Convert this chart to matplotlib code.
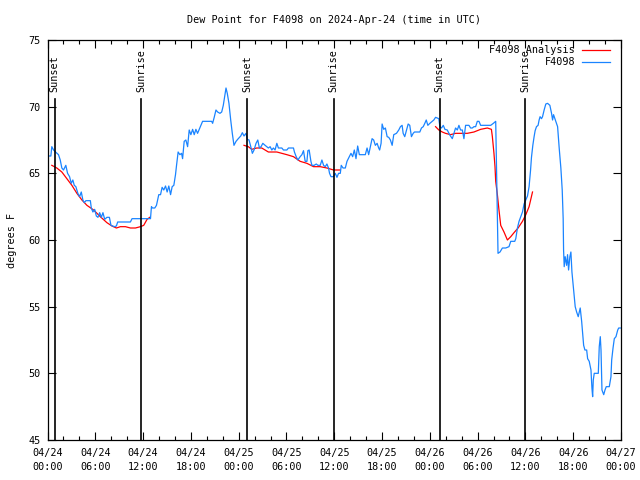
import numpy as np
import matplotlib
matplotlib.use("Agg")
import matplotlib.pyplot as plt
from matplotlib.lines import Line2D

nan = float("nan")

# hours since 2024-04-24 00:00 UTC
obs_hours = [
    0.0, 0.42, 0.54, 0.76, 1.10, 1.38, 1.60, 1.80, 2.01, 2.30, 2.52, 2.77, 2.98, 3.18, 3.36,
    3.56, 3.81, 4.03, 4.24, 4.44, 4.62, 4.82, 5.38, 5.50, 5.70, 5.92, 6.13, 6.33, 6.55, 6.76,
    6.96, 7.18, 7.46, 7.77, 7.97, 8.40, 8.65, 8.81, 10.41, 10.61, 12.93, 13.05, 13.18, 13.47,
    13.68, 13.97, 14.19, 14.39, 14.60, 14.82, 15.02, 15.23, 15.45, 15.65, 15.86, 16.07, 16.20,
    16.40, 16.62, 16.83, 16.96, 17.16, 17.37, 17.59, 17.79, 18.00, 18.22, 18.42, 18.63, 18.84,
    19.05, 19.26, 19.47, 20.61, 20.73, 20.93, 21.15, 21.36, 21.65, 21.87, 22.07, 22.28, 22.41,
    22.57, 22.78, 23.00, 23.20, 23.41, 23.67, 23.95, 24.26, 24.46, 24.67, 24.92, 25.09, 25.30,
    25.52, 25.72, 25.93, 26.18, 26.40, 26.60, 26.81, 27.03, 27.32, 27.73, 27.95, 28.16, 28.36,
    28.57, 28.79, 28.99, 29.42, 29.62, 30.05, 30.25, 30.88, 31.00, 31.22, 31.43, 31.72, 31.94,
    32.14, 32.35, 32.57, 32.69, 32.85, 33.07, 33.20, 33.48, 33.74, 33.95, 34.24, 34.45, 34.66,
    34.87, 35.08, 35.28, 35.41, 35.59, 35.91, 36.13, 36.34, 36.54, 36.76, 36.88, 37.10, 37.39,
    37.60, 37.89, 38.10, 38.31, 38.52, 38.73, 38.94, 39.15, 39.90, 40.12, 40.32, 40.53, 40.75,
    40.95, 41.16, 41.38, 41.58, 41.70, 41.88, 42.01, 42.21, 42.42, 42.64, 42.84, 43.05, 43.27,
    43.47, 43.81, 44.10, 44.31, 44.52, 44.65, 44.85, 45.07, 45.28, 45.48, 45.69, 45.91, 46.07,
    46.74, 46.95, 47.17, 47.37, 47.55, 47.75, 48.00, 48.30, 48.50, 48.72, 49.13, 49.26, 49.47,
    49.69, 49.89, 50.19, 50.48, 50.82, 51.02, 51.23, 51.45, 51.65, 51.86, 52.08, 52.28, 52.49,
    52.91, 53.12, 53.33, 53.54, 53.75, 53.96, 54.17, 54.38, 55.64, 55.98, 56.27, 56.39, 56.48,
    56.56, 56.81, 57.11, 57.53, 57.74, 57.94, 58.16, 58.66, 58.79, 59.00, 59.20, 59.42, 59.63,
    59.83, 60.05, 60.26, 60.46, 60.64, 60.76, 60.93, 61.09, 61.22, 61.39, 61.59, 61.72, 61.84,
    62.02, 62.15, 62.35, 62.56, 62.78, 63.07, 63.28, 63.41, 63.53, 63.70, 63.82, 64.04, 64.24,
    64.45, 64.62, 64.74, 64.79, 64.87, 64.99, 65.17, 65.29, 65.42, 65.58, 65.71, 65.84, 66.00,
    66.13, 66.25, 66.43, 66.63, 66.76, 66.88, 67.06, 67.18, 67.31, 67.47, 67.69, 67.81, 68.01,
    68.23, 68.35, 68.44, 68.52, 68.64, 69.15, 69.27, 69.40, 69.49, 69.61, 69.83, 69.99, 70.15,
    70.53, 70.74, 70.83, 71.00, 71.16, 71.37, 71.59, 71.71, 71.91,
]
obs_dewpt = [
    66.3, 66.3, 67.0, 66.75, 66.55, 66.4, 66.0, 65.4, 65.25, 65.6, 65.0, 64.75, 64.25, 64.5, 64.1,
    64.0, 63.5, 63.25, 63.6, 63.0, 62.8, 62.95, 62.95, 62.4, 62.1, 62.3, 61.8, 61.7, 62.05, 61.7,
    62.05, 61.55, 61.7, 61.7, 61.1, 61.0, 61.05, 61.35, 61.35, 61.6, 61.6, 62.5, 62.4, 62.4,
    62.6, 63.4, 63.4, 63.95, 63.75, 64.05, 63.6, 64.05, 63.4, 64.0, 64.1, 64.9, 65.6,
    66.6, 66.4, 66.5, 66.1, 67.4, 67.5, 67.0, 68.25, 67.9, 68.3, 67.9, 68.3, 68.0,
    68.3, 68.6, 68.9, 68.9, 68.75, 69.2, 69.75, 69.6, 69.5, 69.6, 70.1, 70.9, 71.4,
    71.0, 70.25, 69.0, 68.0, 67.1, 67.4, 67.6, 67.8, 68.05, 67.8, 68.0, 67.55, 67.5,
    67.0, 66.5, 66.75, 67.25, 67.5, 66.9, 67.0, 67.25, 67.1, 66.9, 67.0, 66.75, 66.9,
    66.75, 67.25, 66.9, 66.9, 66.75, 66.75, 66.9, 66.9, 66.6, 66.25, 66.0, 66.25, 66.4,
    66.7, 65.9, 65.9, 66.7, 66.75, 65.9, 65.6, 65.6, 65.7, 65.6, 65.6, 66.0, 65.6,
    65.5, 65.7, 65.4, 65.0, 64.75, 64.75, 65.0, 64.7, 65.0, 65.0, 65.6, 65.4, 65.4,
    65.9, 66.25, 66.5, 66.25, 66.75, 66.1, 67.05, 66.4, 66.4, 66.9, 66.4, 67.0, 67.6,
    67.5, 67.1, 67.25, 66.9, 66.75, 67.25, 68.7, 68.3, 68.4, 67.75, 67.7, 67.5, 67.1,
    67.9, 68.0, 68.25, 68.5, 68.6, 68.0, 67.75, 68.25, 68.7, 68.6, 67.75, 68.0, 68.1,
    68.1, 68.4, 68.5, 68.75, 69.0, 68.6, 68.75, 68.9, 69.0, 69.2, 69.1, 68.5, 68.4,
    68.6, 68.3, 68.25, 67.9, 67.6, 68.0, 68.4, 68.25, 68.6, 68.25, 68.25, 67.6, 68.6,
    68.6, 68.4, 68.4, 68.5, 68.5, 68.9, 68.9, 68.6, 68.6, 68.75, 68.9, 64.75, 61.5,
    59.0, 59.1, 59.4, 59.4, 59.45, 59.5, 59.9, 59.9, 60.1, 60.9, 61.4, 61.75, 62.1,
    62.7, 63.0, 63.3, 64.0, 65.2, 66.2, 67.1, 67.75, 68.2, 68.5, 68.6, 69.0, 69.25,
    69.1, 69.25, 69.75, 70.2, 70.25, 70.1, 69.5, 69.0, 69.4, 69.1, 68.9, 68.5, 66.9,
    65.4, 63.75, 61.6, 59.25, 58.0, 58.75, 58.1, 58.9, 57.75, 58.75, 59.1, 57.6, 56.6,
    55.75, 55.0, 54.6, 54.25, 54.6, 54.9, 53.9, 53.0, 52.1, 51.75, 51.75, 51.1, 50.9,
    50.25, 48.9, 48.25, 49.5, 50.0, 50.0, 52.0, 52.75, 51.75, 48.75, 48.4, 48.75, 49.0,
    49.0, 49.75, 51.0, 51.9, 52.6, 52.75, 53.25, 53.4, 53.4,
]

ana_hours = [
    0.54, 1.17, 1.80, 2.43, 3.06, 3.69, 4.32, 4.95, 5.79, 6.63, 7.46, 8.09, 8.65, 9.15, 9.78,
    10.41, 11.04, 11.67, 12.08, 12.50, 12.84, 18.0,
    24.67, 25.21, 25.64, 26.27, 26.90, 27.73, 28.79, 30.05, 30.88, 31.72, 32.57, 33.40, 34.24,
    35.08, 35.91, 36.76, 42.0,
    48.72, 49.13, 49.56, 49.97, 50.60, 51.23, 52.70, 53.54, 54.38, 55.22, 55.73, 55.85, 56.05,
    56.18, 56.27, 56.48, 56.68, 56.90, 57.31, 57.74, 58.16, 58.57, 59.08, 59.63, 60.05, 60.46,
    60.89,
]
ana_dewpt = [
    65.6, 65.4, 65.1, 64.6, 64.1, 63.5, 63.0, 62.6, 62.25, 61.75, 61.3, 61.05, 60.9, 61.0, 61.0,
    60.9, 60.9, 61.0, 61.1, 61.55, 61.7, nan,
    67.1, 67.0, 66.8, 66.9, 66.9, 66.6, 66.6, 66.4, 66.25, 65.9, 65.75, 65.5, 65.5,
    65.4, 65.25, 65.25, nan,
    68.5, 68.25, 68.1, 68.0, 67.9, 68.0, 68.0, 68.1, 68.3, 68.4, 68.3, 67.75, 66.5,
    65.5, 64.4, 63.4, 62.25, 61.1, 60.6, 60.0, 60.25, 60.55, 60.9, 61.4, 61.9, 62.5,
    63.6,
]

sun_hours = [0.92, 11.80, 25.09, 35.91, 49.26, 60.01]
sun_labels = ["Sunset", "Sunrise", "Sunset", "Sunrise", "Sunset", "Sunrise"]

tick_hours = list(range(0, 73, 6))
tick_labels = ["04/24\n00:00", "04/24\n06:00", "04/24\n12:00", "04/24\n18:00",
               "04/25\n00:00", "04/25\n06:00", "04/25\n12:00", "04/25\n18:00",
               "04/26\n00:00", "04/26\n06:00", "04/26\n12:00", "04/26\n18:00",
               "04/27\n00:00"]

plt.rcParams['font.family'] = ['DejaVu Sans Mono']
plt.rcParams['font.size'] = 7.3

red = '#ff0000'
blue = '#1a84ff'

fig = plt.figure(figsize=(6.4, 4.8), dpi=100)
ax = fig.add_axes([47.5 / 640, 40 / 480, 573.5 / 640, 400 / 480])

ax.plot(ana_hours, ana_dewpt, color=red, lw=0.9)
ax.plot(obs_hours, obs_dewpt, color=blue, lw=0.9)

for h, lab in zip(sun_hours, sun_labels):
    ax.axvline(h, ymin=0, ymax=0.852, color='black', lw=1.2)
    ax.text(h, 0.87, lab, rotation=90, ha='center', va='bottom',
            transform=ax.get_xaxis_transform())

ax.set_xlim(0, 72)
ax.set_ylim(45, 75)
ax.set_xticks(tick_hours)
ax.set_xticklabels(tick_labels, linespacing=1.45)
ax.set_xticks(range(0, 73, 2), minor=True)
ax.set_yticks(range(45, 76, 5))
ax.tick_params(axis='both', which='major', direction='in', length=6, width=0.8,
               top=True, right=True, pad=5)
ax.tick_params(axis='x', which='major', pad=6)
ax.tick_params(axis='x', which='minor', direction='in', length=3, width=0.8, top=True)
for s in ax.spines.values():
    s.set_linewidth(0.9)

ax.set_ylabel("degrees F", labelpad=8)
fig.text(334 / 640, 1 - 20 / 480, "Dew Point for F4098 on 2024-Apr-24 (time in UTC)",
         ha='center', va='center')

# key, gnuplot style: text right-justified, sample to the right
key_rows = [("F4098 Analysis", red), ("F4098", blue)]
for i, (lab, col) in enumerate(key_rows):
    yy = 0.975 - i * 0.031
    ax.text(0.920, yy, lab, ha='right', va='center', transform=ax.transAxes)
    ax.add_line(Line2D([0.932, 0.981], [yy, yy], color=col, lw=0.9,
                       transform=ax.transAxes))

fig.savefig("out.png", dpi=100)
